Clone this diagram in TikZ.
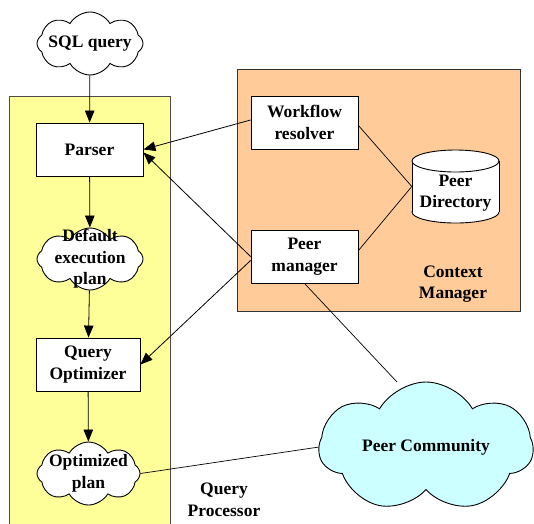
\documentclass[tikz,border=0pt]{standalone}
\usepackage{fontspec}
\setmainfont{Liberation Serif}
\usetikzlibrary{shapes.symbols,arrows.meta,calc}
\newcommand\dfont{\fontsize{17.5}{21.5}\selectfont\bfseries}
\definecolor{qpyellow}{RGB}{255,255,153}
\definecolor{cmorange}{RGB}{255,204,153}
\definecolor{pccyan}{RGB}{204,255,255}
\begin{document}
\begin{tikzpicture}[x=1pt,y=-1pt,
  box/.style={draw, fill=white, line width=0.9pt, minimum width=107pt, minimum height=53pt, inner sep=0pt, align=center, font=\dfont},
  cl/.style={cloud, draw, fill=white, line width=0.9pt, cloud puffs=8, cloud puff arc=120, inner sep=0pt},
  txt/.style={align=center, font=\dfont, inner sep=0pt},
  arr/.style={line width=0.8pt, -{Triangle[length=12pt,width=9.5pt]}},
  ln/.style={line width=0.7pt}]
\useasboundingbox (0,0) rectangle (534,523);
% containers
\fill[fill=qpyellow, draw=black!70, line width=0.9pt] (9,96) rectangle (170,530);
\draw[fill=cmorange, draw=black!80, line width=0.9pt] (237,69) rectangle (520,311);
% nodes
\node[cl, minimum width=106pt, minimum height=63pt] (sql) at (90,43.5) {};
\node[txt] at (sql.center) {SQL query};
\node[box] (parser) at (89.5,149.5) {Parser};
\node[cl, minimum width=106pt, minimum height=62pt] (dp) at (90,259) {};
\node[txt] at (dp.center) {Default\\execution\\plan};
\node[box, minimum width=104pt] (qo) at (88,364.5) {Query\\Optimizer};
\node[cl, minimum width=103pt, minimum height=63pt] (op) at (88.5,473.5) {};
\node[txt] at (op.center) {Optimized\\plan};
\node[box] (wf) at (304.5,122.5) {Workflow\\resolver};
\node[box] (pm) at (304.5,256.5) {Peer\\manager};
% cylinder
\node[minimum width=87pt, minimum height=73pt, inner sep=0pt] (pd) at (455.5,186.5) {};
\filldraw[fill=white, line width=0.9pt] (455.5,212) ellipse [x radius=43.5, y radius=11];
\fill[white] (412,161) rectangle (499,212);
\draw[line width=0.9pt] (412,161) -- (412,212) (499,161) -- (499,212);
\filldraw[fill=white, line width=0.9pt] (455.5,161) ellipse [x radius=43.5, y radius=11];
\node[txt] at (455.5,193) {Peer\\Directory};
\node[cl, fill=pccyan, cloud puffs=7, cloud puff arc=120, minimum width=214pt, minimum height=130pt] (pc) at (426,447) {};
\node[txt] at (pc.center) {Peer Community};
\node[txt] (cm) at (453,284) {Context\\Manager};
\node[txt] (qp) at (224,500) {Query\\Processor};
\coordinate (pctop) at (397,382);
\coordinate (pcleft) at (319,447);
% connectors
\draw[arr] (sql) -- (parser);
\draw[arr] (parser) -- (dp);
\draw[arr] (dp) -- (qo);
\draw[arr] (qo) -- (op);
\draw[arr] ($(wf.west)+(0,-2.5)$) -- (parser.east);
\draw[arr] (pm.west) -- ($(parser.east)+(0,3)$);
\draw[arr] ($(pm.west)+(0,4)$) -- (qo.east);
\draw[ln] ($(wf.east)+(0,3)$) -- (pd.west);
\draw[ln] ($(pm.east)+(0,-6)$) -- (pd.west);
\draw[ln] (pm.south) -- (pctop);
\draw[ln] (op.east) -- (pcleft);
\end{tikzpicture}
\end{document}
